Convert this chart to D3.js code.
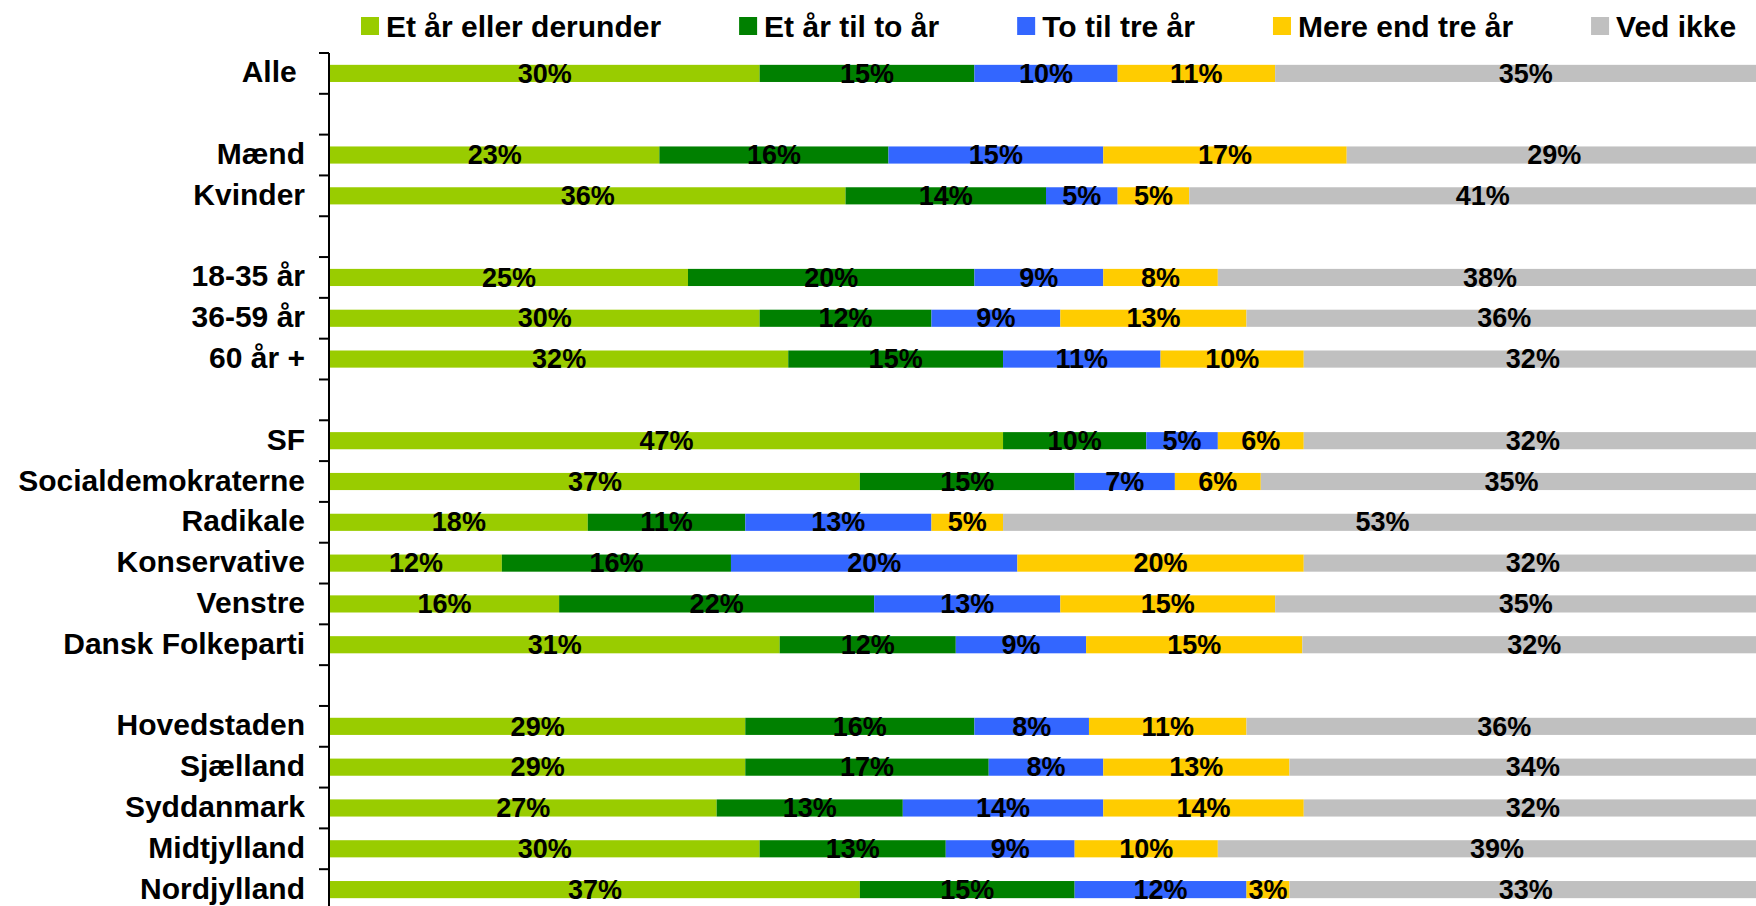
<!DOCTYPE html>
<html>
<head>
<meta charset="utf-8">
<script src="https://cdn.jsdelivr.net/npm/d3@7/dist/d3.min.js"></script>
<style>
  html, body { margin: 0; padding: 0; background: #fff; }
  svg { display: block; }
  text { font-family: "Liberation Sans", Arial, sans-serif; font-weight: bold; fill: #000; white-space: pre; }
</style>
</head>
<body>
<script>
// ---- data ----
const categories = ["Alle ", "Mænd", "Kvinder", "18-35 år", "36-59 år", "60 år +",
  "SF", "Socialdemokraterne", "Radikale", "Konservative", "Venstre", "Dansk Folkeparti",
  "Hovedstaden", "Sjælland", "Syddanmark", "Midtjylland", "Nordjylland"];
const groupSizes = [1, 2, 3, 6, 5];
const seriesNames = ["Et år eller derunder", "Et år til to år", "To til tre år", "Mere end tre år", "Ved ikke"];
const etAarEllerDerunder = [30, 23, 36, 25, 30, 32, 47, 37, 18, 12, 16, 31.4, 29, 29, 27, 30, 37];
const etAarTilToAar      = [15, 16, 14, 20, 12, 15, 10, 15, 11, 16, 22, 12.3, 16, 17, 13, 13, 15];
const toTilTreAar        = [10, 15,  5,  9,  9, 11,  5,  7, 13, 20, 13,  9.1,  8,  8, 14,  9, 12];
const mereEndTreAar      = [11, 17,  5,  8, 13, 10,  6,  6,  5, 20, 15, 15.1, 11, 13, 14, 10,  3];
const vedIkke            = [35, 29, 41, 38, 36, 32, 32, 35, 53, 32, 35, 32.4, 36, 34, 32, 39, 33];
const colors = ["#99CC00", "#008000", "#3366FF", "#FFCC00", "#C0C0C0"];

// ---- layout ----
const W = 1756, H = 906;
const seriesValues = [etAarEllerDerunder, etAarTilToAar, toTilTreAar, mereEndTreAar, vedIkke];

// build slots (categories with a blank slot between groups)
const slots = [];
let ci = 0;
groupSizes.forEach((g, gi) => {
  if (gi > 0) slots.push({ id: "gap" + gi, label: null });
  for (let k = 0; k < g; k++) { slots.push({ id: "c" + ci, label: categories[ci], idx: ci }); ci++; }
});

const rows = categories.map((c, i) => {
  const r = { id: "c" + i, label: c };
  seriesNames.forEach((s, j) => r[s] = seriesValues[j][i]);
  return r;
});

const stacked = d3.stack().keys(seriesNames)(rows);

const x = d3.scaleLinear().domain([0, 100]).range([330, 1762]);
const pad = 0.58;
const y = d3.scaleBand().domain(slots.map(s => s.id)).range([53, 910]).paddingInner(pad).paddingOuter(pad / 2);

const svg = d3.select("body").append("svg").attr("width", W).attr("height", H);

// bars
const layer = svg.append("g").selectAll("g").data(stacked).join("g")
  .attr("fill", (d, i) => colors[i]);
layer.selectAll("rect").data(d => d).join("rect")
  .attr("x", d => x(d[0]))
  .attr("y", d => y(d.data.id))
  .attr("width", d => x(d[1]) - x(d[0]))
  .attr("height", y.bandwidth());

// value labels
const lab = svg.append("g").selectAll("g").data(stacked).join("g");
lab.selectAll("text").data(d => d).join("text")
  .attr("x", d => (x(d[0]) + x(d[1])) / 2)
  .attr("y", d => y(d.data.id) + y.bandwidth() / 2)
  .attr("dy", "0.34em")
  .attr("text-anchor", "middle")
  .style("font-size", "27px")
  .text(d => Math.round(d[1] - d[0]) + "%");

// axis with ticks at band boundaries
const axisX = 329;
const step = y.step();
const boundaries = d3.range(slots.length + 1).map(i => 53 + i * step);
const axisG = svg.append("g");
axisG.append("line").attr("x1", axisX).attr("x2", axisX).attr("y1", 53).attr("y2", 910)
  .attr("stroke", "#000").attr("stroke-width", 2);
axisG.selectAll("line.tick").data(boundaries).join("line").attr("class", "tick")
  .attr("x1", axisX - 10).attr("x2", axisX).attr("y1", d => d).attr("y2", d => d)
  .attr("stroke", "#000").attr("stroke-width", 2);

// category labels
svg.append("g").selectAll("text").data(slots.filter(s => s.label)).join("text")
  .attr("x", 305)
  .attr("y", d => y(d.id) + y.bandwidth() / 2)
  .attr("dy", "0.3em")
  .attr("text-anchor", "end")
  .style("font-size", "30px")
  .text(d => d.label);

// legend
const legend = svg.append("g");
let lx = 361;
seriesNames.forEach((s, i) => {
  legend.append("rect").attr("x", lx).attr("y", 17).attr("width", 18).attr("height", 18).attr("fill", colors[i]);
  const t = legend.append("text").attr("x", lx + 25).attr("y", 37).style("font-size", "30px").text(s);
  lx += 25 + t.node().getComputedTextLength() + 78;
});
</script>
</body>
</html>
